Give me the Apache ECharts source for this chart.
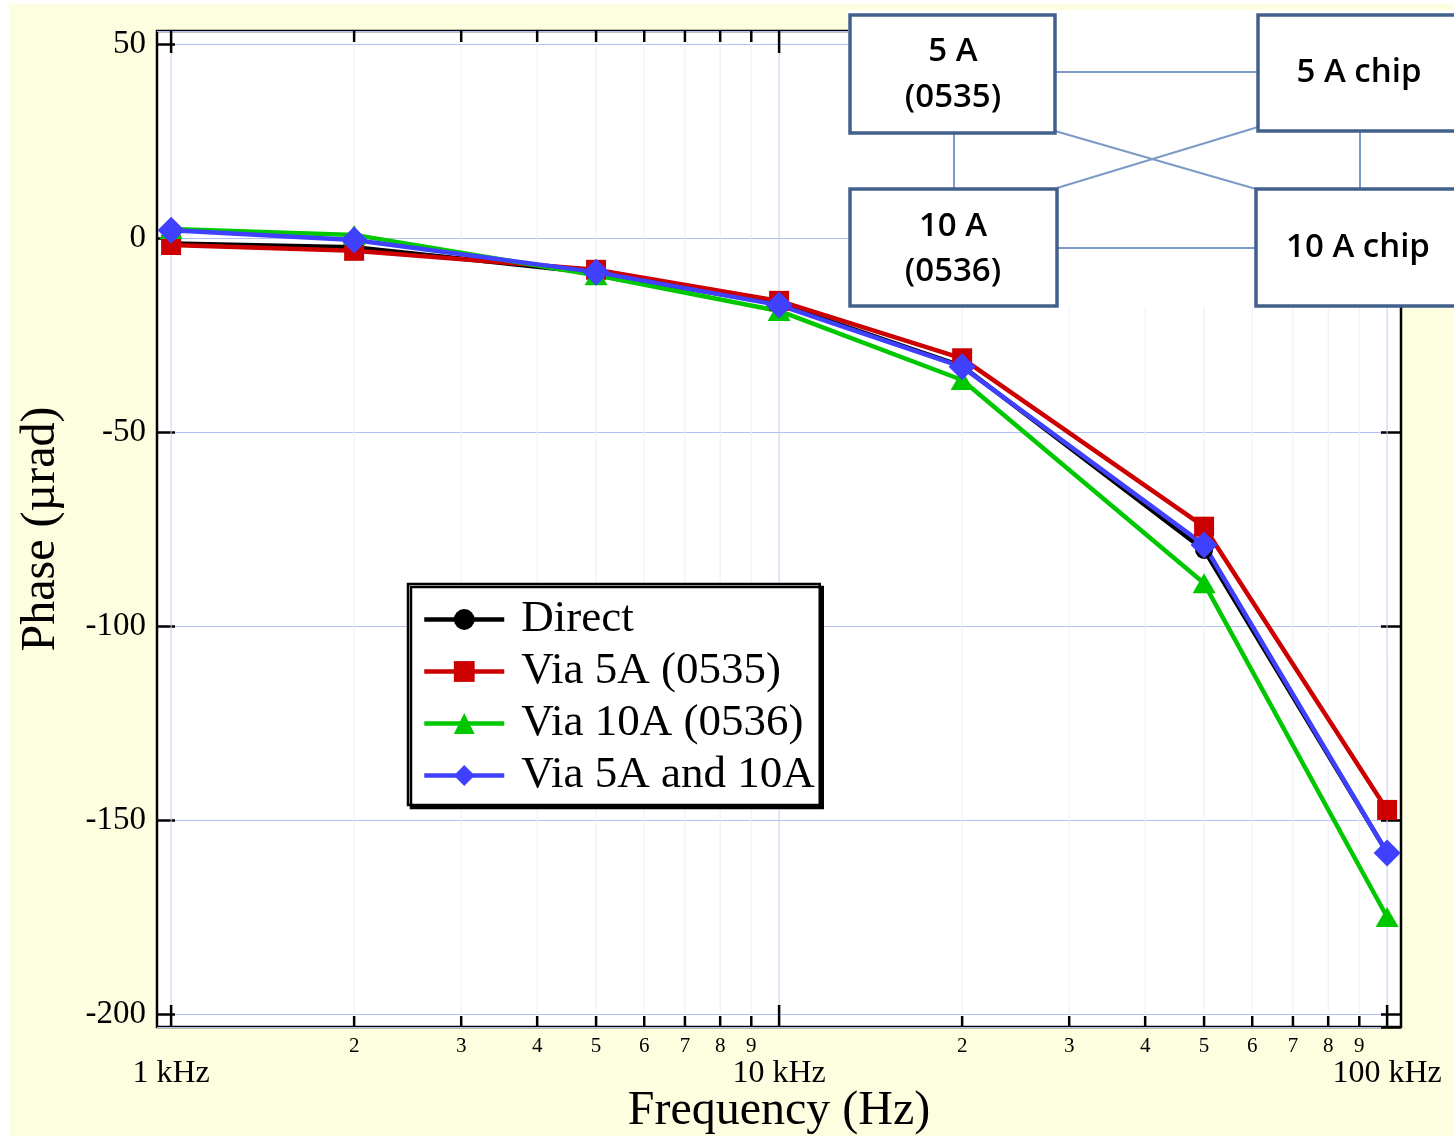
<html>
<head>
<meta charset="utf-8">
<title>Phase vs frequency</title>
<script src="https://cdn.jsdelivr.net/npm/echarts@6/dist/echarts.min.js"></script>
<style>
    body { margin:0; background:#fff; }
    #paper { position:absolute; left:9px; top:4px; right:0; bottom:0; background:#fdfde0; }
    #chart { position:absolute; left:0; top:0; width:1454px; height:1136px; }
</style>
</head>
<body>
<div id="paper"></div>
<div id="chart"></div>
<script>
// data (phase in µrad)
var freqs = [1000, 2000, 5000, 10000, 20000, 50000, 100000];
var direct   = [-1.4, -2.4, -9.0, -17.0, -33.0, -80.4, -158.4];
var via5A    = [-1.8, -3.3, -8.2, -16.2, -31.0, -74.4, -147.4];
var via10A   = [2.3, 0.8, -9.6, -18.8, -36.6, -89.0, -175.0];
var via5A10A = [2.0, -0.5, -8.8, -17.3, -33.2, -79.1, -158.5];
var seriesNames = ['Direct', 'Via 5A (0535)', 'Via 10A (0536)', 'Via 5A and 10A'];

var tickFreqs = [1000, 2000, 3000, 4000, 5000, 6000, 7000, 8000, 9000,
                 10000, 20000, 30000, 40000, 50000, 60000, 70000, 80000, 90000, 100000];
var tickLabels = ['1 kHz', '2', '3', '4', '5', '6', '7', '8', '9',
                  '10 kHz', '2', '3', '4', '5', '6', '7', '8', '9', '100 kHz'];

var X_MIN = 948, X_MAX = 105400;
var Y_MIN = -203.35, Y_MAX = 53.35;
var SERIF = '"Liberation Serif", "DejaVu Serif", serif';

function pairs(vals) {
    return freqs.map(function (f, i) { return [f, vals[i]]; });
}
function lineSeries(name, vals, color, symbol, size) {
    return {
        name: name, type: 'line', data: pairs(vals),
        symbol: symbol, symbolSize: size, showAllSymbol: true,
        lineStyle: { color: color, width: 4.5 },
        itemStyle: { color: color },
        z: 3
    };
}

// log-axis ticks, grid lines and labels (minor decades 2..9 included)
function renderTick(params, api) {
    var f = api.value(0);
    var lab = tickLabels[params.dataIndex];
    var major = lab.indexOf('kHz') >= 0;
    var top = api.coord([f, Y_MAX]);
    var bot = api.coord([f, Y_MIN]);
    var x = bot[0];
    var len = major ? 22 : 11;
    return {
        type: 'group',
        children: [
            { type: 'line', shape: { x1: x, y1: top[1], x2: x, y2: bot[1] },
              style: { stroke: major ? '#c4cdf6' : '#eceefb', lineWidth: 1 } },
            { type: 'line', shape: { x1: x, y1: bot[1], x2: x, y2: bot[1] - len },
              style: { stroke: '#000', lineWidth: 2.5 } },
            { type: 'line', shape: { x1: x, y1: top[1], x2: x, y2: top[1] + len },
              style: { stroke: '#000', lineWidth: 2.5 } },
            { type: 'text', x: x, y: bot[1] + (major ? 47 : 19),
              style: { text: lab, fill: '#000', align: 'center', verticalAlign: 'middle',
                       font: (major ? '32px ' : '21px ') + SERIF } }
        ]
    };
}

var boxLine = '#41608c';
var linkLine = '#7c9ac6';
function box(x, y, w, h) {
    return { type: 'rect', z: 102, shape: { x: x, y: y, width: w, height: h },
             style: { fill: '#fff', stroke: boxLine, lineWidth: 3.5 } };
}
function link(x1, y1, x2, y2) {
    return { type: 'line', z: 101, shape: { x1: x1, y1: y1, x2: x2, y2: y2 },
             style: { stroke: linkLine, lineWidth: 2 } };
}
function label(x, y, t) {
    return { type: 'text', z: 103, x: x, y: y,
             style: { text: t, fill: '#000', align: 'center', verticalAlign: 'middle',
                      font: '600 33px "Open Sans", "Noto Sans", sans-serif' } };
}

var chart = echarts.init(document.getElementById('chart'));
var option = {
    animation: false,
    backgroundColor: 'transparent',
    grid: { left: 157, right: 53, top: 31, bottom: 109, show: true,
            outerBoundsMode: 'none', containLabel: false,
            backgroundColor: '#fff', borderColor: '#000', borderWidth: 2.5 },
    legend: {
        orient: 'vertical', left: 408, top: 584,
        padding: [13, 5, 7, 14], itemGap: 7, itemWidth: 80, itemHeight: 26,
        backgroundColor: '#fff', borderColor: '#000', borderWidth: 2.5,
        shadowColor: '#000', shadowOffsetX: 3, shadowOffsetY: 3, shadowBlur: 0,
        lineStyle: { width: 4.5 },
        textStyle: { fontFamily: SERIF, fontSize: 45, color: '#000', lineHeight: 42,
                     padding: [0, 0, 0, 12] },
        data: seriesNames
    },
    xAxis: {
        type: 'log', logBase: 10, min: X_MIN, max: X_MAX,
        name: 'Frequency (Hz)', nameLocation: 'middle', nameGap: 60,
        nameTextStyle: { fontFamily: SERIF, fontSize: 48, color: '#000' },
        axisLine: { show: false }, axisTick: { show: false },
        axisLabel: { show: false }, splitLine: { show: false }
    },
    yAxis: [{
        type: 'value', min: Y_MIN, max: Y_MAX, minInterval: 50, maxInterval: 50,
        name: 'Phase (µrad)', nameLocation: 'middle', nameGap: 92, nameRotate: 90,
        nameTextStyle: { fontFamily: SERIF, fontSize: 48, color: '#000' },
        axisLine: { show: false },
        axisTick: { inside: true, length: 18, lineStyle: { color: '#000', width: 2.5 } },
        axisLabel: { showMinLabel: false, showMaxLabel: false, margin: 11,
                     fontFamily: SERIF, fontSize: 33, color: '#000' },
        splitLine: { lineStyle: { color: '#b3c0f6', width: 1 } }
    }, {
        type: 'value', position: 'right', min: Y_MIN, max: Y_MAX, minInterval: 50, maxInterval: 50,
        axisLine: { show: false },
        axisTick: { inside: true, length: 20, lineStyle: { color: '#000', width: 2.5 } },
        axisLabel: { show: false }, splitLine: { show: false }
    }],
    series: [
        { type: 'custom', name: 'ticks', z: 1, silent: true, clip: false,
          data: tickFreqs.map(function (f) { return [f, Y_MIN]; }),
          renderItem: renderTick },
        lineSeries(seriesNames[0], direct, '#000000', 'circle', 18),
        lineSeries(seriesNames[1], via5A, '#cc0000', 'rect', 20),
        lineSeries(seriesNames[2], via10A, '#00c800', 'triangle', [23, 20]),
        lineSeries(seriesNames[3], via5A10A, '#4040ff', 'diamond', 27)
    ],
    graphic: [
        { type: 'rect', z: 100, shape: { x: 848, y: 10, width: 606, height: 297 },
          style: { fill: '#fff' } },
        link(1055, 72, 1258, 72),
        link(1057, 248, 1256, 248),
        link(954, 133, 954, 189),
        link(1360, 131, 1360, 189),
        link(1055, 131, 1256, 189),
        link(1057, 188, 1258, 127),
        box(850, 15, 205, 118),
        box(1258, 15, 220, 116),
        box(850, 189, 207, 117),
        box(1256, 189, 222, 117),
        label(953, 52, '5 A'),
        label(953, 98, '(0535)'),
        label(1359, 73, '5 A chip'),
        label(953, 227, '10 A'),
        label(953, 272, '(0536)'),
        label(1358, 248, '10 A chip')
    ]
};
chart.setOption(option);
</script>
</body>
</html>
